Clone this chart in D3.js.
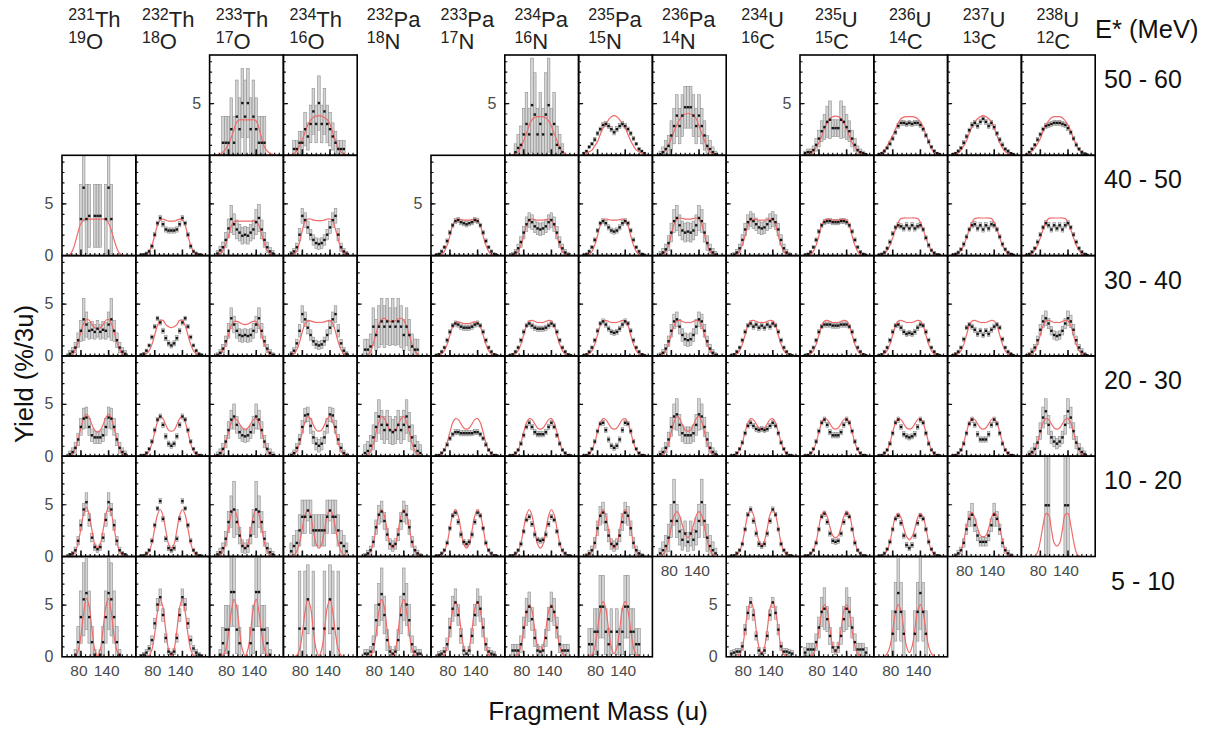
<!DOCTYPE html>
<html><head><meta charset="utf-8">
<script src="https://cdn.jsdelivr.net/npm/d3@7"></script>
<style>body{margin:0;background:#fff;}svg{display:block;font-family:"Liberation Sans",Arial,sans-serif;}</style>
</head><body>
<script>
// ---------- categories / labels ----------
const compoundMass = [231,232,233,234,232,233,234,235,236,234,235,236,237,238];
const compoundElement = ["Th","Th","Th","Th","Pa","Pa","Pa","Pa","Pa","U","U","U","U","U"];
const ejectileMass = [19,18,17,16,18,17,16,15,14,16,15,14,13,12];
const ejectileElement = ["O","O","O","O","N","N","N","N","N","C","C","C","C","C"];
const energyBins = ["50 - 60","40 - 50","30 - 40","20 - 30","10 - 20","5 - 10"];
const xTickLabels = [80, 140];
const yTickLabels = [0, 5];
// fragment mass grid (u)
const fragmentMass = [51,57,63,69,75,81,87,93,99,105,111,117,123,129,135,141,147,153,159,165,171,177,183];

// shared error / model shapes
const errFine = [0.1,0.1,0.15,0.15,0.2,0.2,0.2,0.25,0.25,0.25,0.25,0.25,0.25,0.25,0.25,0.25,0.2,0.2,0.2,0.15,0.15,0.1,0.1];
const errMedium = [0.1,0.2,0.3,0.4,0.5,0.6,0.7,0.7,0.7,0.6,0.6,0.6,0.6,0.6,0.7,0.7,0.7,0.6,0.5,0.4,0.3,0.2,0.1];
const modelPlateau35 = [0,0.02,0.1,0.4,1.0,1.9,2.9,3.4,3.5,3.45,3.4,3.4,3.4,3.45,3.5,3.4,2.9,1.9,1.0,0.4,0.1,0.02,0];
const modelPlateau36 = [0,0.02,0.1,0.4,1.0,2.0,3.0,3.5,3.6,3.55,3.5,3.5,3.5,3.55,3.6,3.5,3.0,2.0,1.0,0.4,0.1,0.02,0];
const modelPlateauU = [0,0.05,0.2,0.5,1.0,1.7,2.5,3.2,3.55,3.6,3.6,3.6,3.6,3.6,3.55,3.2,2.5,1.7,1.0,0.5,0.2,0.05,0];
const modelShoulder32 = [0,0.05,0.2,0.5,1.1,2.0,2.8,3.2,3.25,3.2,3.1,3.1,3.1,3.2,3.25,3.2,2.8,2.0,1.1,0.5,0.2,0.05,0];
const modelShoulder34 = [0,0.05,0.2,0.5,1.1,2.0,2.9,3.35,3.4,3.3,3.2,3.2,3.2,3.3,3.4,3.35,2.9,2.0,1.1,0.5,0.2,0.05,0];
const modelDouble38 = [0,0.02,0.15,0.5,1.2,2.3,3.3,3.8,3.6,3.0,2.5,2.4,2.5,3.0,3.6,3.8,3.3,2.3,1.2,0.5,0.15,0.02,0];
const modelDouble36 = [0,0.05,0.2,0.6,1.3,2.3,3.2,3.6,3.5,3.1,2.7,2.6,2.7,3.1,3.5,3.6,3.2,2.3,1.3,0.6,0.2,0.05,0];
const modelDouble45 = [0,0.02,0.15,0.5,1.3,2.7,4.0,4.5,3.9,2.5,1.2,0.8,1.2,2.5,3.9,4.5,4.0,2.7,1.3,0.5,0.15,0.02,0];
const modelDouble55 = [0,0,0.02,0.15,0.7,2.2,4.3,5.5,4.7,2.5,0.7,0.1,0.7,2.5,4.7,5.5,4.3,2.2,0.7,0.15,0.02,0,0];
const modelDouble52 = [0,0,0.05,0.2,0.9,2.6,4.4,5.3,4.6,2.6,0.9,0.3,0.9,2.6,4.6,5.3,4.4,2.6,0.9,0.2,0.05,0,0];
const modelDouble50 = [0,0,0.05,0.3,1.0,2.5,4.2,5.0,4.4,2.6,1.0,0.4,1.0,2.6,4.4,5.0,4.2,2.5,1.0,0.3,0.05,0,0];

// ---------- E* = 50-60 MeV ----------
const yield_50_60 = [null,null,
 [null,null,null,1.2,1.2,1.2,2.5,1.2,3.7,2.5,5.0,3.7,5.0,2.5,3.7,2.5,1.2,1.2,1.2,null,null,null,null],
 [null,null,0.6,0.6,1.2,1.2,2.5,1.8,3.0,4.2,3.0,5.0,3.0,4.2,3.0,2.5,1.8,1.2,0.6,0.6,0.6,null,null],
 null,null,
 [null,null,0.3,0.7,1.0,2.0,3.0,2.0,4.8,3.9,2.0,3.0,2.0,3.9,4.8,2.0,3.0,1.0,0.7,0.3,null,null,null],
 [0.2,0.4,0.8,1.1,1.5,2.1,2.5,2.9,3.0,2.8,2.5,2.2,2.5,2.8,3.0,2.8,2.5,2.1,1.6,1.1,0.6,0.4,0.2],
 [null,0.1,0.3,0.6,0.9,1.9,2.8,3.8,2.8,3.8,4.6,4.6,4.6,3.8,2.8,3.8,2.8,1.9,0.9,0.6,0.3,0.1,null],
 null,
 [0.2,0.3,0.3,0.5,1.0,1.6,2.3,2.7,3.2,3.4,2.6,2.6,2.6,3.4,3.2,2.7,2.3,1.6,1.0,0.5,0.3,0.2,0.1],
 [0.1,0.2,0.4,0.7,1.1,1.6,2.2,2.8,3.1,3.1,3.0,3.1,3.0,3.1,3.1,2.9,2.5,1.9,1.3,0.8,0.4,0.2,0.1],
 [0.1,0.2,0.4,0.7,1.2,1.8,2.4,2.9,3.1,2.8,3.2,3.5,3.2,2.8,3.1,2.7,2.1,1.5,1.0,0.6,0.4,0.2,0.1],
 [0.05,0.3,0.6,1.0,1.5,2.0,2.5,2.8,2.9,3.0,3.1,3.1,3.1,3.0,2.9,2.6,2.2,1.6,1.0,0.6,0.3,0.15,0.05]];
const error_50_60 = [null,null,
 [0,0,0,2.5,2.5,2.5,3.0,2.5,3.5,3.0,3.3,3.5,3.3,3.0,3.5,3.0,2.5,2.5,2.5,0,0,0,0],
 [0,0,0.8,0.8,1.1,1.1,1.6,1.3,1.8,2.2,1.8,2.6,1.8,2.2,1.8,1.6,1.3,1.1,0.8,0.8,0.8,0,0],
 null,null,
 [0,0,0.8,1.3,1.8,2.5,3.0,2.5,4.5,4.0,2.5,3.0,2.5,4.0,4.5,2.5,3.0,1.8,1.3,0.8,0,0,0],
 errFine,
 [0,0.3,0.5,0.8,1.0,1.4,1.7,2.0,1.7,2.0,2.0,2.0,2.0,2.0,1.7,2.0,1.7,1.4,1.0,0.8,0.5,0.3,0],
 null,
 [0.2,0.3,0.3,0.4,0.6,0.8,1.0,1.2,1.5,1.8,0.8,0.8,0.8,1.8,1.5,1.2,1.0,0.8,0.6,0.4,0.3,0.2,0.1],
 errFine, errFine, errFine];
const model_50_60 = [null,null,
 [0,0.05,0.1,0.3,0.6,1.1,1.7,2.5,3.2,3.4,3.4,3.4,3.4,3.4,3.4,3.3,2.6,1.6,0.8,0.4,0.2,0.1,0.05],
 [0,0.05,0.15,0.4,0.9,1.5,2.2,2.9,3.4,3.65,3.75,3.8,3.75,3.6,3.4,3.0,2.2,1.4,0.7,0.3,0.1,0.05,0],
 null,null,
 [0,0.05,0.15,0.35,0.8,1.4,2.1,2.9,3.4,3.65,3.7,3.7,3.7,3.6,3.3,2.8,2.1,1.4,0.8,0.35,0.15,0.05,0],
 [0.1,0.2,0.35,0.5,0.9,1.3,2.0,2.6,3.0,3.4,3.7,3.8,3.7,3.4,3.0,2.6,2.0,1.4,0.9,0.5,0.35,0.2,0.1],
 [0,0.1,0.3,0.5,1.0,1.6,2.3,2.9,3.4,3.8,3.95,4.0,3.95,3.8,3.5,2.8,2.1,1.4,0.7,0.3,0.15,0.05,0],
 null,
 [0,0.05,0.15,0.4,0.8,1.2,1.8,2.6,3.1,3.5,3.7,3.75,3.7,3.5,3.1,2.6,1.8,1.2,0.8,0.4,0.15,0.05,0],
 [0.05,0.2,0.5,0.9,1.4,1.9,2.5,3.1,3.5,3.65,3.7,3.7,3.7,3.65,3.5,3.2,2.7,2.0,1.3,0.6,0.3,0.1,0.05],
 [0,0.1,0.25,0.5,0.9,1.4,2.1,2.7,3.2,3.5,3.7,3.8,3.7,3.5,3.2,2.6,1.9,1.2,0.7,0.35,0.15,0.05,0],
 [0.05,0.2,0.4,0.7,1.1,1.6,2.3,2.9,3.3,3.6,3.7,3.7,3.7,3.6,3.3,2.9,2.3,1.6,1.0,0.5,0.3,0.1,0.05]];

// ---------- E* = 40-50 MeV ----------
const yield_40_50 = [
 [null,null,null,null,null,3.5,6.5,3.5,3.8,null,3.8,3.8,3.8,null,3.5,6.5,3.5,null,null,null,null,null,null],
 [0.05,0.1,0.2,0.4,0.9,2.0,3.1,3.6,3.0,2.5,2.4,2.4,2.4,2.5,3.0,3.6,3.1,2.0,0.9,0.4,0.2,0.1,0.05],
 [null,0.2,0.5,0.8,1.5,2.6,3.5,3.0,2.5,2.2,1.9,2.0,1.9,2.2,2.5,3.2,3.6,2.5,1.5,0.8,0.4,0.2,null],
 [null,0.2,0.4,0.8,2.0,3.8,3.4,2.7,2.0,1.5,1.2,1.1,1.2,1.5,2.0,2.7,3.4,3.8,2.0,0.8,0.4,0.2,null],
 null,
 [0.05,0.15,0.4,0.8,1.4,2.2,2.9,3.3,3.4,3.2,3.1,3.0,3.1,3.2,3.4,3.3,2.9,2.2,1.4,0.8,0.4,0.15,0.05],
 [null,0.1,0.3,0.7,1.3,2.2,3.0,3.4,3.2,2.8,2.6,2.5,2.6,2.8,3.2,3.4,3.0,2.2,1.3,0.7,0.3,0.1,null],
 [0.05,0.15,0.4,0.8,1.5,2.4,3.1,3.3,3.1,2.7,2.4,2.3,2.4,2.7,3.1,3.3,3.1,2.4,1.5,0.8,0.4,0.15,0.05],
 [null,0.1,0.3,0.6,1.2,2.2,3.3,3.6,2.9,2.4,2.2,2.3,2.2,2.4,2.9,3.6,3.3,2.2,1.2,0.6,0.3,0.1,null],
 [null,0.1,0.3,0.7,1.5,2.5,3.2,3.5,3.3,3.0,2.7,2.6,2.7,3.0,3.3,3.5,3.2,2.5,1.5,0.7,0.3,0.1,null],
 [0.05,0.15,0.35,0.8,1.5,2.3,2.9,3.2,3.3,3.3,3.2,3.2,3.2,3.3,3.3,3.2,2.9,2.3,1.5,0.8,0.35,0.15,0.05],
 [0.05,0.15,0.3,0.7,1.3,2.1,2.7,2.9,2.8,2.6,2.9,2.6,2.9,2.6,2.8,2.9,2.5,1.7,1.0,0.5,0.25,0.1,0.05],
 [0.05,0.15,0.3,0.6,1.1,1.8,2.5,2.9,3.0,2.6,2.9,2.5,2.9,2.6,3.0,2.9,2.5,1.8,1.1,0.6,0.3,0.15,0.05],
 [0.05,0.15,0.35,0.7,1.3,2.0,2.7,3.1,2.9,2.5,2.9,2.6,2.9,2.5,2.9,3.1,2.7,2.0,1.3,0.7,0.35,0.15,0.05]];
const error_40_50 = [
 [0,0,0,0,0,3.3,3.2,3.3,3.0,0,3.0,3.0,3.0,0,3.3,3.2,3.3,0,0,0,0,0,0],
 errFine,
 [0,0.3,0.4,0.5,0.7,0.9,1.3,1.0,0.9,0.8,0.8,0.8,0.8,0.8,0.9,1.2,1.3,0.9,0.7,0.5,0.4,0.3,0],
 [0,0.2,0.3,0.4,0.6,0.7,0.7,0.6,0.5,0.5,0.5,0.5,0.5,0.5,0.5,0.6,0.7,0.7,0.6,0.4,0.3,0.2,0],
 null,
 errFine, errMedium, errFine,
 [0,0.3,0.4,0.5,0.7,0.9,1.1,1.2,1.0,0.9,0.9,0.9,0.9,0.9,1.0,1.2,1.1,0.9,0.7,0.5,0.4,0.3,0],
 errMedium, errFine, errFine, errFine, errFine];
const model_40_50 = [
 [0,0.1,0.5,1.3,2.3,3.1,3.45,3.5,3.5,3.5,3.5,3.5,3.5,3.5,3.45,3.1,2.4,1.5,0.7,0.2,0.05,0,0],
 [0,0.02,0.1,0.4,1.0,1.9,2.9,3.4,3.5,3.4,3.3,3.3,3.3,3.4,3.5,3.4,2.9,1.9,1.0,0.4,0.1,0.02,0],
 [0,0.05,0.2,0.5,1.1,1.9,2.8,3.25,3.3,3.3,3.3,3.3,3.3,3.3,3.3,3.3,2.9,2.0,1.1,0.5,0.2,0.05,0],
 [0,0.05,0.15,0.4,1.3,2.4,3.3,3.5,3.5,3.4,3.35,3.35,3.35,3.4,3.5,3.5,3.3,2.5,1.5,0.7,0.2,0.05,0],
 null,
 modelPlateau35, modelPlateau35, modelPlateau35, modelPlateau36, modelPlateau35,
 modelPlateau35, modelPlateauU, modelPlateauU, modelPlateauU];

// ---------- E* = 30-40 MeV ----------
const yield_30_40 = [
 [null,0.2,0.4,0.8,1.5,2.4,3.5,3.0,2.4,2.5,2.3,2.6,2.3,2.5,2.4,3.0,3.5,2.4,1.5,0.8,0.4,0.2,null],
 [0.1,0.2,0.5,1.0,1.8,2.8,3.6,3.2,2.4,1.7,1.2,1.0,1.2,1.7,2.4,3.2,3.6,2.8,1.8,1.0,0.5,0.2,0.1],
 [null,0.1,0.3,0.7,1.4,2.4,3.6,3.0,2.4,2.0,1.9,2.0,1.9,2.0,2.4,3.0,3.6,2.4,1.4,0.7,0.3,0.1,null],
 [null,0.2,0.5,1.2,2.4,4.0,3.5,2.7,2.0,1.4,1.1,1.0,1.1,1.4,2.0,2.7,3.5,4.0,2.4,1.2,0.5,0.2,null],
 [null,0.6,0.6,0.9,2.8,2.0,2.8,3.3,2.8,3.3,2.8,3.3,2.8,3.3,2.8,2.0,2.8,2.0,0.9,0.6,0.6,null,null],
 [0.05,0.15,0.4,0.8,1.5,2.3,2.9,3.1,3.0,2.8,2.7,2.7,2.7,2.8,3.0,3.1,2.9,2.3,1.5,0.8,0.4,0.15,0.05],
 [0.05,0.15,0.4,0.8,1.5,2.3,2.9,3.1,2.9,2.7,2.6,2.6,2.6,2.7,2.9,3.1,2.9,2.3,1.5,0.8,0.4,0.15,0.05],
 [0.05,0.15,0.4,0.8,1.5,2.4,3.1,3.3,3.0,2.6,2.3,2.2,2.3,2.6,3.0,3.3,3.1,2.4,1.5,0.8,0.4,0.15,0.05],
 [null,0.1,0.3,0.7,1.4,2.4,3.3,3.5,2.8,2.0,1.6,1.5,1.6,2.0,2.8,3.5,3.3,2.4,1.4,0.7,0.3,0.1,null],
 [0.05,0.15,0.4,0.8,1.5,2.3,2.9,3.1,2.8,3.0,2.7,2.9,2.7,3.0,2.8,3.1,2.9,2.3,1.5,0.8,0.4,0.15,0.05],
 [0.05,0.15,0.4,0.8,1.5,2.3,2.8,3.0,3.0,3.0,2.9,2.9,2.9,3.0,3.0,3.0,2.8,2.3,1.5,0.8,0.4,0.15,0.05],
 [0.05,0.15,0.4,0.8,1.5,2.3,2.9,3.0,2.7,2.3,2.1,2.2,2.1,2.3,2.7,3.0,2.9,2.3,1.5,0.8,0.4,0.15,0.05],
 [0.05,0.2,0.4,0.8,1.6,2.7,3.0,2.8,2.5,2.1,2.4,2.0,2.4,2.1,2.5,2.8,3.0,2.7,1.6,0.8,0.4,0.2,0.05],
 [0.05,0.15,0.4,0.8,1.5,2.5,3.3,3.6,3.1,2.4,2.0,1.9,2.0,2.4,3.1,3.6,3.3,2.5,1.5,0.8,0.4,0.15,0.05]];
const error_30_40 = [
 [0,0.3,0.4,0.5,0.7,1.0,2.0,1.2,0.8,0.8,0.7,0.8,0.7,0.8,0.8,1.2,2.0,1.0,0.7,0.5,0.4,0.3,0],
 errFine,
 [0,0.2,0.3,0.4,0.5,0.7,1.0,0.8,0.7,0.6,0.6,0.6,0.6,0.6,0.7,0.8,1.0,0.7,0.5,0.4,0.3,0.2,0],
 [0,0.2,0.3,0.4,0.6,0.8,0.7,0.6,0.5,0.4,0.4,0.4,0.4,0.4,0.5,0.6,0.7,0.8,0.6,0.4,0.3,0.2,0],
 [0,1.0,1.0,1.2,1.8,1.5,2.0,2.2,2.0,2.2,1.8,2.2,1.8,2.2,2.0,1.5,1.8,1.5,1.2,1.0,1.0,0,0],
 errFine, errFine, errFine, errMedium, errFine, errFine, errFine, errFine,
 [0.1,0.2,0.3,0.3,0.4,0.5,0.6,0.7,0.5,0.4,0.4,0.4,0.4,0.4,0.5,0.7,0.6,0.5,0.4,0.3,0.3,0.2,0.1]];
const model_30_40 = [
 [0,0.05,0.2,0.6,1.3,2.3,3.1,3.5,3.4,3.0,2.7,2.6,2.7,3.0,3.4,3.5,3.1,2.3,1.3,0.6,0.2,0.05,0],
 [0,0.05,0.2,0.5,1.1,2.0,2.9,3.4,3.4,3.0,2.8,2.7,2.8,3.0,3.4,3.4,2.9,2.0,1.1,0.5,0.2,0.05,0],
 [0,0.05,0.2,0.5,1.1,2.0,2.9,3.3,3.3,3.2,3.05,3.0,3.05,3.2,3.3,3.3,2.9,2.0,1.1,0.5,0.2,0.05,0],
 [0,0.05,0.2,0.6,1.3,2.3,3.1,3.4,3.35,3.25,3.2,3.2,3.2,3.25,3.35,3.4,3.1,2.3,1.3,0.6,0.2,0.05,0],
 [0,0,0.1,0.4,1.2,2.2,3.0,3.5,3.6,3.4,3.3,3.3,3.35,3.55,3.6,3.4,2.8,2.0,1.1,0.5,0.1,0,0],
 modelShoulder32, modelShoulder34, modelShoulder34, modelShoulder34, modelShoulder34,
 modelShoulder34, modelShoulder34, modelShoulder34, modelShoulder34];

// ---------- E* = 20-30 MeV ----------
const yield_20_30 = [
 [null,0.2,0.4,0.8,1.6,2.8,3.6,3.7,2.8,2.0,1.8,1.8,1.8,2.0,2.8,3.7,3.6,2.8,1.6,0.8,0.4,0.2,null],
 [0.05,0.1,0.3,0.7,1.4,2.5,3.5,3.8,3.0,1.9,1.2,1.0,1.2,1.9,3.0,3.8,3.5,2.5,1.4,0.7,0.3,0.1,0.05],
 [null,0.1,0.3,0.7,1.4,2.5,3.5,3.8,3.0,2.3,2.0,1.9,2.0,2.3,3.0,3.8,3.5,2.5,1.4,0.7,0.3,0.1,null],
 [null,0.1,0.3,0.8,1.6,2.8,3.9,4.0,2.9,1.8,1.2,1.0,1.2,1.8,2.9,4.0,3.9,2.8,1.6,0.8,0.3,0.1,null],
 [null,0.3,0.5,1.0,1.8,2.8,3.8,3.0,2.5,3.0,2.5,2.3,2.5,3.0,2.5,3.0,3.8,2.8,1.8,1.0,0.5,0.3,null],
 [0.05,0.1,0.3,0.6,1.1,1.7,2.1,2.3,2.3,2.2,2.2,2.2,2.2,2.2,2.3,2.3,2.1,1.7,1.1,0.6,0.3,0.1,0.05],
 [0.05,0.1,0.3,0.6,1.2,2.0,2.8,3.2,2.8,2.3,2.1,2.1,2.1,2.3,2.8,3.2,2.8,2.0,1.2,0.6,0.3,0.1,0.05],
 [0.05,0.1,0.3,0.7,1.4,2.4,3.1,3.2,2.5,1.6,1.0,0.8,1.0,1.6,2.5,3.2,3.1,2.4,1.4,0.7,0.3,0.1,0.05],
 [null,0.2,0.4,0.8,1.6,2.8,3.8,4.0,3.0,2.2,2.0,2.0,2.0,2.2,3.0,4.0,3.8,2.8,1.6,0.8,0.4,0.2,null],
 [0.05,0.1,0.3,0.7,1.3,2.2,2.9,3.2,2.9,2.6,2.5,2.6,2.5,2.6,2.9,3.2,2.9,2.2,1.3,0.7,0.3,0.1,0.05],
 [0.05,0.1,0.3,0.7,1.4,2.4,3.2,3.5,3.0,2.3,2.0,2.0,2.0,2.3,3.0,3.5,3.2,2.4,1.4,0.7,0.3,0.1,0.05],
 [0.05,0.1,0.3,0.6,1.2,2.2,3.2,3.5,2.8,2.1,1.9,1.8,1.9,2.1,2.8,3.5,3.2,2.2,1.2,0.6,0.3,0.1,0.05],
 [0.05,0.1,0.3,0.6,1.2,2.2,3.1,3.5,3.0,2.1,1.6,1.6,1.6,2.1,3.0,3.5,3.1,2.2,1.2,0.6,0.3,0.1,0.05],
 [null,0.2,0.4,0.7,1.3,2.4,3.7,4.3,3.0,1.8,1.4,1.2,1.4,1.8,3.0,4.3,3.7,2.4,1.3,0.7,0.4,0.2,null]];
const error_20_30 = [
 [0,0.3,0.4,0.5,0.6,0.8,1.0,1.0,0.8,0.6,0.6,0.6,0.6,0.6,0.8,1.0,1.0,0.8,0.6,0.5,0.4,0.3,0],
 errFine,
 [0,0.3,0.4,0.5,0.6,0.8,0.9,1.2,0.8,0.6,0.6,0.6,0.6,0.6,0.8,1.2,0.9,0.8,0.6,0.5,0.4,0.3,0],
 errMedium,
 [0,0.8,0.9,1.0,1.2,1.4,1.6,1.4,1.3,1.4,1.3,1.2,1.3,1.4,1.3,1.4,1.6,1.4,1.2,1.0,0.9,0.8,0],
 errFine, errFine, errFine,
 [0,0.3,0.4,0.5,0.7,0.9,1.2,1.5,1.0,0.8,0.8,0.8,0.8,0.8,1.0,1.5,1.2,0.9,0.7,0.5,0.4,0.3,0],
 errFine, errFine, errFine, errFine,
 [0,0.3,0.4,0.5,0.6,0.8,1.0,1.2,0.9,0.6,0.5,0.5,0.5,0.6,0.9,1.2,1.0,0.8,0.6,0.5,0.4,0.3,0]];
const model_20_30 = [
 [0,0.05,0.25,0.7,1.6,2.7,3.6,4.0,3.7,3.0,2.5,2.3,2.5,3.0,3.7,4.0,3.6,2.7,1.6,0.7,0.25,0.05,0],
 modelDouble38, modelDouble36, modelDouble38, modelDouble38, modelDouble36, modelDouble36,
 modelDouble36, modelDouble38, modelDouble36, modelDouble36, modelDouble36, modelDouble36, modelDouble36];

// ---------- E* = 10-20 MeV ----------
const yield_10_20 = [
 [null,0.2,0.3,0.6,1.5,3.0,4.5,5.2,3.5,1.8,0.9,0.7,0.9,1.8,3.5,5.2,4.5,3.0,1.5,0.6,0.3,0.2,null],
 [0.05,0.1,0.3,0.6,1.5,3.0,4.6,5.3,3.6,1.7,0.8,0.6,0.8,1.7,3.6,5.3,4.6,3.0,1.5,0.6,0.3,0.1,0.05],
 [null,0.2,0.4,0.8,1.7,3.3,4.3,4.5,3.3,2.0,1.0,0.8,1.0,2.0,3.3,4.5,4.3,3.3,1.7,0.8,0.4,0.2,null],
 [null,0.5,1.0,1.3,2.5,3.8,3.8,4.4,3.8,2.5,2.5,2.5,2.5,2.5,3.8,4.4,3.8,3.8,2.5,1.3,1.0,0.5,null],
 [null,0.1,0.3,0.6,1.4,2.8,4.0,4.3,3.4,2.1,1.2,1.0,1.2,2.1,3.4,4.3,4.0,2.8,1.4,0.6,0.3,0.1,null],
 [0.05,0.1,0.3,0.6,1.3,2.7,3.9,4.2,3.3,2.1,1.4,1.2,1.4,2.1,3.3,4.2,3.9,2.7,1.3,0.6,0.3,0.1,0.05],
 [0.05,0.1,0.3,0.6,1.2,2.4,3.5,3.8,3.1,2.1,1.6,1.5,1.6,2.1,3.1,3.8,3.5,2.4,1.2,0.6,0.3,0.1,0.05],
 [null,0.1,0.3,0.6,1.3,2.7,3.9,4.2,3.3,2.0,1.2,1.0,1.2,2.0,3.3,4.2,3.9,2.7,1.3,0.6,0.3,0.1,null],
 [null,0.3,0.6,1.0,1.8,3.4,5.2,3.4,2.4,1.6,2.2,1.4,2.2,1.6,2.4,3.4,5.2,3.4,1.8,1.0,0.6,0.3,null],
 [0.05,0.1,0.3,0.6,1.2,2.6,4.0,4.5,3.4,2.2,1.2,1.0,1.2,2.2,3.4,4.5,4.0,2.6,1.2,0.6,0.3,0.1,0.05],
 [0.05,0.1,0.3,0.6,1.3,2.6,3.8,4.1,3.3,2.2,1.5,1.4,1.5,2.2,3.3,4.1,3.8,2.6,1.3,0.6,0.3,0.1,0.05],
 [0.05,0.1,0.3,0.7,1.4,2.6,3.6,3.9,3.2,2.0,1.1,0.8,1.1,2.0,3.2,3.9,3.6,2.6,1.4,0.7,0.3,0.1,0.05],
 [null,0.1,0.3,0.6,1.3,2.6,3.6,4.0,3.0,2.0,1.4,1.4,1.4,2.0,3.0,4.0,3.6,2.6,1.3,0.6,0.3,0.1,null],
 [null,null,null,null,null,null,null,4.9,4.9,null,null,null,null,null,4.9,4.9,null,null,null,null,null,null,null]];
const error_10_20 = [
 [0,0.1,0.2,0.3,0.4,0.5,0.6,0.9,0.6,0.4,0.3,0.3,0.3,0.4,0.6,0.9,0.6,0.5,0.4,0.3,0.2,0.1,0],
 errFine,
 [0,0.3,0.4,0.5,0.7,1.0,1.5,2.7,1.2,0.8,0.6,0.5,0.6,0.8,1.2,2.7,1.5,1.0,0.7,0.5,0.4,0.3,0],
 [0,0.8,1.0,1.2,1.5,1.6,1.6,1.0,1.6,1.5,1.5,1.5,1.5,1.5,1.6,1.0,1.6,1.6,1.5,1.2,1.0,0.8,0],
 [0,0.2,0.3,0.4,0.5,0.7,0.9,1.0,0.8,0.6,0.5,0.5,0.5,0.6,0.8,1.0,0.9,0.7,0.5,0.4,0.3,0.2,0],
 errFine, errFine,
 [0,0.2,0.3,0.4,0.5,0.7,0.9,1.0,0.8,0.6,0.5,0.5,0.5,0.6,0.8,1.0,0.9,0.7,0.5,0.4,0.3,0.2,0],
 [0,0.5,0.8,1.0,1.3,1.6,2.2,1.6,1.3,1.0,1.2,0.9,1.2,1.0,1.3,1.6,2.2,1.6,1.3,1.0,0.8,0.5,0],
 errFine, errFine, errFine,
 [0,0.2,0.3,0.3,0.4,0.5,0.7,1.1,0.6,0.5,0.4,0.4,0.4,0.5,0.6,1.1,0.7,0.5,0.4,0.3,0.3,0.2,0],
 [0,0,0,0,0,0,0,4.9,4.9,0,0,0,0,0,4.9,4.9,0,0,0,0,0,0,0]];
const model_10_20 = [
 [0,0.05,0.15,0.5,1.3,2.7,4.1,4.7,4.0,2.5,1.2,0.8,1.2,2.5,4.0,4.7,4.1,2.7,1.3,0.5,0.15,0.05,0],
 modelDouble45, modelDouble45, modelDouble45, modelDouble45, modelDouble45, modelDouble45, modelDouble45,
 [0,0.05,0.2,0.6,1.5,2.8,3.9,4.3,3.9,3.0,2.1,1.8,2.1,3.0,3.9,4.3,3.9,2.8,1.5,0.6,0.2,0.05,0],
 [0,0.05,0.2,0.5,1.3,2.7,4.0,4.5,4.0,2.7,1.5,1.0,1.5,2.7,4.0,4.5,4.0,2.7,1.3,0.5,0.2,0.05,0],
 [0,0.05,0.2,0.6,1.4,2.8,4.0,4.3,3.8,2.8,2.0,1.8,2.0,2.8,3.8,4.3,4.0,2.8,1.4,0.6,0.2,0.05,0],
 [0,0.05,0.2,0.6,1.4,2.7,3.8,4.1,3.7,2.7,1.9,1.6,1.9,2.7,3.7,4.1,3.8,2.7,1.4,0.6,0.2,0.05,0],
 [0,0.05,0.2,0.6,1.5,2.8,3.9,4.2,3.7,2.7,2.0,1.9,2.0,2.7,3.7,4.2,3.9,2.8,1.5,0.6,0.2,0.05,0],
 [0,0,0,0.05,0.4,1.5,3.0,4.1,4.0,2.6,1.3,1.0,1.3,2.6,4.0,4.1,3.0,1.5,0.4,0.05,0,0,0]];

// ---------- E* = 5-10 MeV ----------
const yield_5_10 = [
 [null,null,null,0.2,1.4,3.8,5.5,6.1,3.8,1.4,0.2,null,0.2,1.4,3.8,6.1,5.5,3.8,1.4,0.2,null,null,null],
 [0.1,0.2,0.4,0.8,1.6,3.2,5.0,5.7,4.0,1.8,0.5,0.3,0.5,1.8,4.0,5.7,5.0,3.2,1.6,0.8,0.4,0.2,0.1],
 [null,null,0.2,1.3,2.6,2.6,6.2,6.2,2.6,1.3,null,null,null,1.3,2.6,6.2,6.2,2.6,2.6,1.3,0.2,null,null],
 [null,null,null,null,2.7,null,2.7,5.5,null,2.7,null,null,null,2.7,null,5.5,2.7,null,2.7,null,null,null,null],
 [null,0.3,0.3,0.5,1.2,3.5,5.0,6.0,4.0,1.6,0.5,0.3,0.5,1.6,4.0,6.0,5.0,3.5,1.2,0.5,0.3,0.3,null],
 [null,0.2,0.3,0.5,1.2,2.8,4.6,5.2,4.0,2.0,0.6,0.3,0.6,2.0,4.0,5.2,4.6,2.8,1.2,0.5,0.3,0.2,null],
 [null,0.6,0.6,0.6,1.2,2.8,4.3,4.8,3.6,1.8,0.6,0.5,0.6,1.8,3.6,4.8,4.3,2.8,1.2,0.6,0.6,0.6,null],
 [null,null,1.2,1.2,2.4,2.4,4.8,4.8,2.4,1.2,2.4,null,2.4,1.2,2.4,4.8,4.8,2.4,2.4,1.2,1.2,null,null],
 null,
 [0.3,0.4,0.5,0.5,1.0,2.6,4.2,5.2,4.0,2.0,0.6,0.3,0.6,2.0,4.0,5.2,4.2,2.6,1.0,0.5,0.5,0.4,0.3],
 [0.4,0.7,0.7,0.7,1.4,2.8,4.3,4.6,3.6,2.0,0.9,0.6,0.9,2.0,3.6,4.6,4.3,2.8,1.4,0.7,0.7,0.7,0.4],
 [null,null,null,null,null,2.2,4.3,6.1,4.3,2.2,null,null,null,2.2,4.3,6.1,4.3,2.2,null,null,null,null,null],
 null, null];
const error_5_10 = [
 [0,0,0,0.5,1.5,2.5,3.5,3.5,2.5,1.5,0.5,0,0.5,1.5,2.5,3.5,3.5,2.5,1.5,0.5,0,0,0],
 [0.1,0.2,0.3,0.3,0.4,0.5,0.6,0.8,0.6,0.4,0.3,0.2,0.3,0.4,0.6,0.8,0.6,0.5,0.4,0.3,0.3,0.2,0.1],
 [0,0,0.5,1.5,2.3,2.3,3.3,3.3,2.3,1.5,0,0,0,1.5,2.3,3.3,3.3,2.3,2.3,1.5,0.5,0,0],
 [0,0,0,0,5.5,0,5.5,3.3,0,5.5,0,0,0,5.5,0,3.3,5.5,0,5.5,0,0,0,0],
 [0,0.4,0.4,0.5,0.8,1.5,2.0,2.5,1.8,1.0,0.5,0.4,0.5,1.0,1.8,2.5,2.0,1.5,0.8,0.5,0.4,0.4,0],
 [0,0.3,0.3,0.4,0.6,0.9,1.2,1.3,1.0,0.7,0.4,0.3,0.4,0.7,1.0,1.3,1.2,0.9,0.6,0.4,0.3,0.3,0],
 [0,0.6,0.6,0.6,0.8,1.0,1.3,1.4,1.1,0.8,0.6,0.5,0.6,0.8,1.1,1.4,1.3,1.0,0.8,0.6,0.6,0.6,0],
 [0,0,1.5,1.5,2.2,2.2,3.0,3.0,2.2,1.5,2.2,0,2.2,1.5,2.2,3.0,3.0,2.2,2.2,1.5,1.5,0,0],
 null,
 [0.3,0.3,0.3,0.3,0.4,0.5,0.6,0.5,0.5,0.4,0.3,0.2,0.3,0.4,0.5,0.5,0.6,0.5,0.4,0.3,0.3,0.3,0.3],
 [0.5,0.6,0.6,0.6,0.8,1.0,1.4,2.0,1.2,0.8,0.5,0.4,0.5,0.8,1.2,2.0,1.4,1.0,0.8,0.6,0.6,0.6,0.5],
 [0,0,0,0,0,2.2,2.8,3.5,2.8,2.2,0,0,0,2.2,2.8,3.5,2.8,2.2,0,0,0,0,0],
 null, null];
const model_5_10 = [
 [0,0,0.02,0.1,0.6,2.0,4.2,5.6,4.8,2.6,0.7,0.1,0.7,2.6,4.8,5.6,4.2,2.0,0.6,0.1,0.02,0,0],
 modelDouble55, modelDouble55, modelDouble55, modelDouble55, modelDouble52, modelDouble50, modelDouble52,
 null, modelDouble52, modelDouble50, modelDouble50, null, null];

// which panels carry y tick labels: [row, column, ticks]
const yLabelSpots = [[0,2,[5]],[0,6,[5]],[0,10,[5]],[1,0,[0,5]],[1,5,[5]],[2,0,[0,5]],[3,0,[0,5]],[4,0,[0,5]],[5,0,[0,5]],[5,9,[0,5]]];

// ---------- drawing ----------
const W = 1215, H = 729;
const left0 = 62, colW = 73.8, top0 = 55, rowH = 100.3;
const svg = d3.select("body").append("svg").attr("width", W).attr("height", H);
const x = d3.scaleLinear().domain([40, 200]).range([0, colW]);
const y = d3.scaleLinear().domain([0, 9.6]).range([rowH, 0]);

const rows = [
 {yields: yield_50_60, errors: error_50_60, models: model_50_60},
 {yields: yield_40_50, errors: error_40_50, models: model_40_50},
 {yields: yield_30_40, errors: error_30_40, models: model_30_40},
 {yields: yield_20_30, errors: error_20_30, models: model_20_30},
 {yields: yield_10_20, errors: error_10_20, models: model_10_20},
 {yields: yield_5_10, errors: error_5_10, models: model_5_10}];

const line = d3.line().defined(d => d != null)
  .x((d, i) => x(fragmentMass[i])).y(d => y(d)).curve(d3.curveCatmullRom.alpha(0.5));

rows.forEach((row, r) => {
  row.yields.forEach((vals, c) => {
    if (!vals) return;
    const g = svg.append("g").attr("transform", `translate(${left0 + c * colW},${top0 + r * rowH})`);
    const id = `clip-${r}-${c}`;
    g.append("clipPath").attr("id", id).append("rect").attr("width", colW).attr("height", rowH);
    const inner = g.append("g").attr("clip-path", `url(#${id})`);
    const errs = row.errors[c];
    const pts = fragmentMass.map((m, i) => ({m, v: vals[i], e: errs[i]})).filter(d => d.v != null);
    inner.selectAll("rect.err").data(pts.filter(d => d.e > 0)).join("rect").attr("class", "err")
      .attr("x", d => x(d.m) - 1.3).attr("width", 2.6)
      .attr("y", d => y(d.v + d.e))
      .attr("height", d => y(Math.max(0, d.v - d.e)) - y(d.v + d.e))
      .attr("fill", "#d4d4d4").attr("stroke", "#8f8f8f").attr("stroke-width", 0.6);
    // axes ticks (inward)
    const ay = inner.append("g").call(d3.axisLeft(y).tickValues(d3.range(1, 10)).tickSize(-2.5).tickFormat(""));
    const ay2 = inner.append("g").call(d3.axisLeft(y).tickValues([5]).tickSize(-4.5).tickFormat(""));
    const ax = inner.append("g").attr("transform", `translate(0,${rowH})`)
      .call(d3.axisBottom(x).tickValues(d3.range(50, 200, 10)).tickSize(-2.5).tickFormat(""));
    const ax2 = inner.append("g").attr("transform", `translate(0,${rowH})`)
      .call(d3.axisBottom(x).tickValues(xTickLabels).tickSize(-6).tickFormat(""));
    [ay, ay2, ax, ax2].forEach(a => { a.select(".domain").remove(); a.selectAll("line").attr("stroke", "#111").attr("stroke-width", 1.2); });
    ax2.selectAll("line").attr("stroke-width", 1.6);
    // model
    inner.append("path").attr("d", line(row.models[c])).attr("fill", "none")
      .attr("stroke", "#f06a6a").attr("stroke-width", 1.2);
    // data points
    inner.selectAll("rect.pt").data(pts).join("rect").attr("class", "pt")
      .attr("x", d => x(d.m) - 1.2).attr("y", d => y(d.v) - 1.2)
      .attr("width", 2.4).attr("height", 2.4).attr("fill", "#151515");
    g.append("rect").attr("width", colW).attr("height", rowH).attr("fill", "none")
      .attr("stroke", "#000").attr("stroke-width", 1.6);
  });
});

// y tick labels
yLabelSpots.forEach(([r, c, ticks]) => {
  ticks.forEach(t => {
    svg.append("text").attr("x", left0 + c * colW - 8.5).attr("y", top0 + r * rowH + y(t) + 5.5)
      .attr("text-anchor", "end").attr("font-size", 16).attr("fill", "#4a4a4a").text(t);
  });
});

// x tick labels below the lowest panel of each column
compoundMass.forEach((A, c) => {
  let lowest = -1;
  rows.forEach((row, r) => { if (row.yields[c]) lowest = r; });
  const bx = left0 + c * colW, by = top0 + (lowest + 1) * rowH + 19.5;
  xTickLabels.forEach(t => {
    svg.append("text").attr("x", bx + x(t) - 1.5).attr("y", by).attr("text-anchor", "middle")
      .attr("font-size", 15.5).attr("fill", "#4a4a4a").text(t);
  });
});

// column headers
compoundMass.forEach((A, c) => {
  const cx = left0 + c * colW + colW / 2 - (compoundElement[c] === "Th" ? 4.5 : 0.5);
  const t1 = svg.append("text").attr("x", cx).attr("y", 27).attr("text-anchor", "middle").attr("fill", "#222");
  t1.append("tspan").attr("font-size", 16).attr("dy", -7).text(A);
  t1.append("tspan").attr("font-size", 22).attr("dy", 7).text(compoundElement[c]);
  const bb = t1.node().getBBox();
  const t2 = svg.append("text").attr("x", bb.x).attr("y", 49).attr("fill", "#222");
  t2.append("tspan").attr("font-size", 16).attr("dy", -6.5).text(ejectileMass[c]);
  t2.append("tspan").attr("font-size", 22).attr("dy", 6.5).text(ejectileElement[c]);
});

// energy labels
svg.append("text").attr("x", 1095).attr("y", 37.5).attr("font-size", 25.5).attr("fill", "#111").text("E* (MeV)");
energyBins.forEach((lab, r) => {
  svg.append("text").attr("x", 1143).attr("y", top0 + r * rowH + 33).attr("text-anchor", "middle")
    .attr("font-size", 25).attr("fill", "#111").text(lab);
});

// axis titles
svg.append("text").attr("x", 598).attr("y", 720).attr("text-anchor", "middle")
  .attr("font-size", 26).attr("fill", "#111").text("Fragment Mass (u)");
svg.append("text").attr("transform", "translate(33,374) rotate(-90)").attr("text-anchor", "middle")
  .attr("font-size", 25.5).attr("fill", "#111").text("Yield (%/3u)");
</script>
</body></html>
